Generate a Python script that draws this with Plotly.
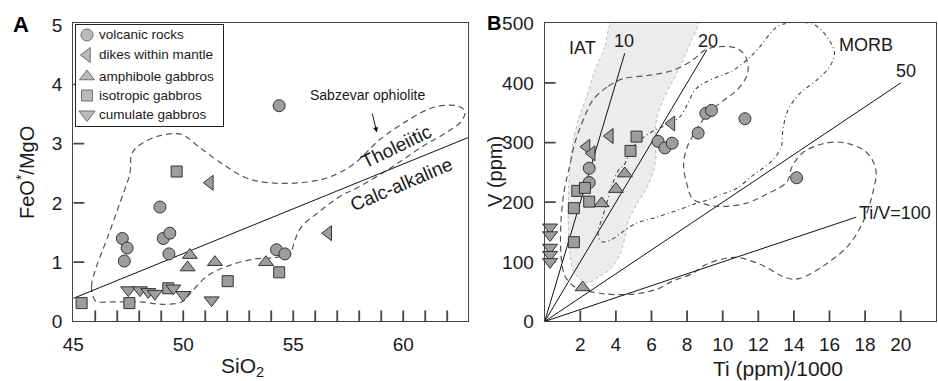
import plotly.graph_objects as go

FONT = "Arial, 'Liberation Sans', Helvetica, sans-serif"
TXT = "#1a1a1a"
FILL = "#9d9d9d"
EDGE = "#333333"
TICKC = "#444444"
W, H = 938, 381

# ---------------- Panel A : FeO*/MgO vs SiO2 ----------------
volc_si = [54.36, 48.94, 47.23, 47.45, 47.32, 49.09, 49.39, 49.35, 54.24, 54.62]
volc_fm = [3.64, 1.93, 1.40, 1.24, 1.02, 1.40, 1.49, 1.14, 1.21, 1.14]
dike_si = [51.21, 56.59]
dike_fm = [2.34, 1.49]
amph_si = [50.30, 50.20, 51.44, 53.76]
amph_fm = [1.12, 0.91, 1.00, 1.00]
iso_si = [49.70, 45.38, 47.55, 49.32, 52.02, 54.36]
iso_fm = [2.53, 0.31, 0.31, 0.56, 0.68, 0.83]
cum_si = [47.50, 48.03, 48.41, 48.71, 49.55, 50.00, 51.29]
cum_fm = [0.53, 0.53, 0.50, 0.47, 0.56, 0.45, 0.36]

# tick values
a_xlabels = [45, 50, 55, 60]
a_xticks = list(range(46, 63))
a_yvals = [0, 1, 2, 3, 4, 5]
a_yticks = [1, 2, 3, 4]
b_xvals = list(range(2, 21, 2))
b_yvals = [0, 100, 200, 300, 400, 500]
b_yticks = [100, 200, 300, 400]

# Tholeiitic / calc-alkaline divider
div_si = [45.0, 63.0]
div_fm = [0.39, 3.11]

# Sabzevar ophiolite field outline
sab_si = [45.98, 45.83, 46.06, 46.52, 47.12, 47.58, 47.65, 47.95, 48.79, 49.70,
          50.08, 50.76, 51.82, 52.88, 53.94, 55.30, 56.52, 57.73, 58.94, 60.15,
          61.36, 62.42, 62.80, 62.65, 61.97, 60.91, 59.55, 58.03, 57.12, 56.21,
          55.38, 55.08, 54.85, 54.24, 53.18, 51.97, 51.06, 50.45, 49.92, 49.09,
          48.03, 46.82, 46.14, 45.98]
sab_fm = [0.36, 0.59, 0.93, 1.38, 2.00, 2.51, 2.82, 2.96, 3.12, 3.17,
          3.13, 2.93, 2.65, 2.42, 2.34, 2.34, 2.42, 2.65, 3.07, 3.38,
          3.61, 3.64, 3.55, 3.38, 3.19, 2.96, 2.62, 2.28, 2.11, 1.86,
          1.60, 1.38, 1.15, 1.08, 1.05, 0.93, 0.76, 0.53, 0.33, 0.29,
          0.33, 0.33, 0.33, 0.36]

# ---------------- Panel B : V vs Ti/1000 ----------------
volc_ti = [2.50, 2.50, 6.37, 6.75, 7.16, 8.62, 9.05, 9.37, 11.25, 14.15]
volc_v = [257, 233, 302, 291, 299, 316, 349, 354, 340, 241]
dike_ti = [2.35, 2.64, 3.66, 7.12]
dike_v = [293, 282, 311, 332]
amph_ti = [2.13, 3.20, 4.00, 4.50]
amph_v = [57, 198, 222, 248]
iso_ti = [1.64, 1.64, 1.83, 2.26, 2.50, 4.82, 5.16]
iso_v = [133, 190, 219, 224, 201, 286, 310]
cum_ti = [0.30, 0.30, 0.30, 0.30, 0.30]
cum_v = [158, 145, 124, 112, 100]

# Ti/V ratio lines
ratios = [10, 20, 50, 100]
ratio_end_ti = [4.5, 9.1, 20.0, 17.5]

# IAT shaded field
iat_ti = [3.85, 3.38, 2.82, 2.35, 1.89, 1.61, 1.42, 1.33, 1.33, 1.42, 1.61, 1.98,
          2.45, 3.10, 3.76, 4.22, 4.50, 4.69, 5.16, 5.72, 6.09, 6.25, 6.20, 6.28,
          6.65, 7.21, 7.77, 8.24, 8.60, 3.85]
iat_v = [505, 460, 421, 377, 338, 305, 260, 212, 157, 112, 85, 71,
         65, 76, 90, 112, 140, 168, 196, 223, 251, 275, 300, 338,
         371, 404, 438, 471, 505, 505]

# dashed field
dsh_ti = [4.4, 3.5, 2.7, 2.15, 1.7, 1.4, 1.1, 0.9, 0.95, 1.14, 1.6, 2.2, 3.5, 5.0,
          6.3, 7.2, 8.2, 9.1, 10.2, 10.9, 12.1, 13.6, 14.3, 15.8, 17.1, 17.9, 18.4,
          18.6, 18.1, 17.3, 16.4, 15.4, 14.5, 13.9, 13.6, 12.5, 11.3, 9.8, 9.1, 8.3,
          8.0, 7.8, 8.0, 8.5, 9.2, 10.2, 10.8, 11.4, 11.3, 10.8, 9.8, 9.0, 8.3, 7.2,
          5.9, 4.4]
dsh_v = [407, 393, 371, 337, 300, 260, 220, 160, 101, 76, 60, 53, 46, 46,
         54, 68, 79, 96, 106, 107, 96, 73, 72, 96, 129, 168, 212,
         255, 283, 296, 301, 296, 283, 260, 234, 214, 198, 193, 196, 206,
         229, 262, 292, 320, 350, 374, 388, 416, 443, 458, 461, 455, 438, 421,
         413, 407]

# dash-dot field
dd_ti = [4.41, 4.97, 5.90, 6.84, 7.59, 8.05, 8.43, 9.09, 10.20, 10.58, 11.33, 12.07,
         12.82, 13.30, 15.10, 16.00, 16.28, 16.00, 15.25, 14.32, 13.66, 13.38, 13.29,
         12.82, 12.26, 11.70, 10.77, 9.83, 9.45, 8.33, 7.21, 6.09, 5.16, 4.41, 3.66,
         3.20, 3.00, 3.29, 3.57, 3.85, 4.22, 4.41]
dd_v = [260, 293, 316, 330, 343, 366, 388, 402, 416, 421, 438, 460,
        488, 498, 498, 471, 449, 427, 404, 382, 354, 321, 293,
        271, 257, 245, 223, 212, 207, 196, 184, 173, 165, 151, 136,
        134, 148, 179, 207, 234, 257, 260]

# legend entries (row order)
legend_names = ["volcanic rocks", "dikes within mantle", "amphibole gabbros",
                "isotropic gabbros", "cumulate gabbros"]
legend_symbols = ["circle", "triangle-left", "triangle-up", "square", "triangle-down"]
legend_sizes = [12, 13, 13, 11, 14]
legend_rows = [10.0, 30.0, 51.5, 70.5, 89.5]   # row centres inside the key box (px from top)

groups = [
    (volc_si, volc_fm, volc_ti, volc_v),
    (dike_si, dike_fm, dike_ti, dike_v),
    (amph_si, amph_fm, amph_ti, amph_v),
    (iso_si, iso_fm, iso_ti, iso_v),
    (cum_si, cum_fm, cum_ti, cum_v),
]

# axes geometry
A_XDOM, B_XDOM = [0.0781, 0.4986], [0.5807, 0.9982]
YDOM = [0.1562, 0.9388]
A_XR, A_YR = [45, 62.93], [0, 5.03]
B_XR, B_YR = [0, 22], [0, 500]
TICK_PX = 11


def per_px(rng, dom, size):
    return (rng[1] - rng[0]) / ((dom[1] - dom[0]) * size)


fig = go.Figure()

# ---- Panel A background lines ----
fig.add_trace(go.Scatter(x=sab_si, y=sab_fm, mode="lines", xaxis="x", yaxis="y",
                         line=dict(color="#555555", width=1.2, dash="6px,4px",
                                   shape="spline", smoothing=1),
                         showlegend=False, hoverinfo="skip"))
fig.add_trace(go.Scatter(x=div_si, y=div_fm, mode="lines", xaxis="x", yaxis="y",
                         line=dict(color="#111111", width=1),
                         showlegend=False, hoverinfo="skip"))

# ---- Panel B background ----
fig.add_trace(go.Scatter(x=iat_ti, y=iat_v, mode="lines", xaxis="x2", yaxis="y2",
                         fill="toself", fillcolor="#ebecec",
                         line=dict(color="#a8a8a8", width=0.8, dash="3px,3px",
                                   shape="spline", smoothing=0.8),
                         showlegend=False, hoverinfo="skip"))
fig.add_trace(go.Scatter(x=dsh_ti, y=dsh_v, mode="lines", xaxis="x2", yaxis="y2",
                         line=dict(color="#555555", width=1.2, dash="6px,4px",
                                   shape="spline", smoothing=1),
                         showlegend=False, hoverinfo="skip"))
fig.add_trace(go.Scatter(x=dd_ti, y=dd_v, mode="lines", xaxis="x2", yaxis="y2",
                         line=dict(color="#444444", width=1.1, dash="4px,3px,1px,3px",
                                   shape="spline", smoothing=1),
                         showlegend=False, hoverinfo="skip"))
for r, xe in zip(ratios, ratio_end_ti):
    fig.add_trace(go.Scatter(x=[0, xe], y=[0, 1000 * xe / r], mode="lines",
                             xaxis="x2", yaxis="y2",
                             line=dict(color="#111111", width=1),
                             showlegend=False, hoverinfo="skip"))


# ---- inward tick marks as short segments in axis units ----
def tick_trace(xa, ya, xvals, yvals, xr, yr, xdom):
    ly = TICK_PX * per_px(yr, YDOM, H)
    lx = TICK_PX * per_px(xr, xdom, W)
    xs, ys = [], []
    for v in xvals:
        xs += [v, v, None]
        ys += [yr[0], yr[0] + ly, None]
    for v in yvals:
        xs += [xr[0], xr[0] + lx, None]
        ys += [v, v, None]
    return go.Scatter(x=xs, y=ys, mode="lines", xaxis=xa, yaxis=ya,
                      line=dict(color=TICKC, width=1.8), showlegend=False,
                      hoverinfo="skip", connectgaps=False)


fig.add_trace(tick_trace("x", "y", a_xticks, a_yticks, A_XR, A_YR, A_XDOM))
fig.add_trace(tick_trace("x2", "y2", b_xvals, b_yticks, B_XR, B_YR, B_XDOM))

# ---- markers ----
for name, sym, size, (xa, ya, xb, yb) in zip(legend_names, legend_symbols,
                                              legend_sizes, groups):
    sz = min(size, 13)
    mk = dict(symbol=sym, size=sz, color=FILL, line=dict(color=EDGE, width=1))
    fig.add_trace(go.Scatter(x=xa, y=ya, mode="markers", name=name,
                             marker=mk, xaxis="x", yaxis="y", cliponaxis=False,
                             showlegend=False))
    fig.add_trace(go.Scatter(x=xb, y=yb, mode="markers", name=name,
                             showlegend=False, marker=mk, xaxis="x2", yaxis="y2",
                             cliponaxis=False))

# ---- key (legend) box drawn on its own small axes ----
fig.add_trace(go.Scatter(x=[11] * len(legend_rows), y=legend_rows, mode="markers",
                         xaxis="x3", yaxis="y3", showlegend=False, hoverinfo="skip",
                         marker=dict(symbol=legend_symbols, size=legend_sizes,
                                     color=FILL, line=dict(color=EDGE, width=1)),
                         cliponaxis=False))

axis_common = dict(showline=True, mirror=True, linecolor="#444444", linewidth=1.2,
                   ticks="", showgrid=False, zeroline=False, automargin=False,
                   tickfont=dict(family=FONT, size=19, color=TXT))

fig.update_layout(
    width=W, height=H,
    margin=dict(l=0, r=0, t=0, b=0, pad=0),
    template="none",
    paper_bgcolor="white", plot_bgcolor="white",
    font=dict(family=FONT, color=TXT),
    showlegend=False,
    xaxis=dict(domain=A_XDOM, range=A_XR, tickmode="array",
               tickvals=a_xlabels, ticklabelstandoff=6, anchor="y", **axis_common),
    yaxis=dict(domain=YDOM, range=A_YR, tickmode="array",
               tickvals=a_yvals, ticklabelstandoff=6, anchor="x", **axis_common),
    xaxis2=dict(domain=B_XDOM, range=B_XR, tickmode="array",
                tickvals=b_xvals, ticklabelstandoff=6, anchor="y2", **axis_common),
    yaxis2=dict(domain=YDOM, range=B_YR, tickmode="array",
                tickvals=b_yvals, ticklabelstandoff=6, anchor="x2", **axis_common),
    xaxis3=dict(domain=[76 / W, 222.7 / W], range=[0, 146.7], anchor="y3",
                showline=True, mirror=True, linecolor="#222222", linewidth=1,
                showticklabels=False, ticks="", showgrid=False, zeroline=False,
                automargin=False, fixedrange=True),
    yaxis3=dict(domain=[1 - 125.7 / H, 1 - 25 / H], range=[100.7, 0], anchor="x3",
                showline=True, mirror=True, linecolor="#222222", linewidth=1,
                showticklabels=False, ticks="", showgrid=False, zeroline=False,
                automargin=False, fixedrange=True),
)

ann = []
# key labels
for name, ry in zip(legend_names, legend_rows):
    ann.append(dict(text=name, x=21, y=ry, xref="x3", yref="y3", xanchor="left",
                    yanchor="middle", showarrow=False,
                    font=dict(size=13.5, family=FONT, color=TXT)))
# panel letters
ann.append(dict(text="<b>A</b>", x=21 / W, y=1 - 25 / H, xref="paper", yref="paper",
                xanchor="center", yanchor="middle",
                showarrow=False, font=dict(size=22, family=FONT, color="#000")))
ann.append(dict(text="<b>B</b>", x=494 / W, y=1 - 23 / H, xref="paper", yref="paper",
                xanchor="center", yanchor="middle",
                showarrow=False, font=dict(size=20, family=FONT, color="#000")))
# axis titles
ann.append(dict(text="FeO<sup>*</sup>/MgO", x=25 / W, y=1 - 173 / H, xref="paper",
                yref="paper", textangle=-90, showarrow=False,
                xanchor="center", yanchor="middle",
                font=dict(size=20, family=FONT, color=TXT)))
ann.append(dict(text="SiO<sub>2</sub>", x=242 / W, y=1 - 367 / H, xref="paper",
                yref="paper", showarrow=False, xanchor="center", yanchor="middle",
                font=dict(size=21, family=FONT, color=TXT)))
ann.append(dict(text="V (ppm)", x=495 / W, y=1 - 172 / H, xref="paper",
                yref="paper", textangle=-90, showarrow=False,
                xanchor="center", yanchor="middle",
                font=dict(size=20, family=FONT, color=TXT)))
ann.append(dict(text="Ti (ppm)/1000", x=778 / W, y=1 - 368 / H, xref="paper",
                yref="paper", showarrow=False, xanchor="center", yanchor="middle",
                font=dict(size=21, family=FONT, color=TXT)))
# panel A labels
ann.append(dict(text="Sabzevar ophiolite", x=58.8, y=3.19, xref="x", yref="y",
                showarrow=True, ax=-9, ay=-37, startstandoff=9, arrowhead=2,
                arrowsize=1, arrowwidth=1, arrowcolor="#111",
                font=dict(size=14, family=FONT, color=TXT)))
ann.append(dict(text="Tholeiitic", x=59.7, y=2.95, xref="x", yref="y", textangle=-26,
                showarrow=False, font=dict(size=19, family=FONT, color=TXT)))
ann.append(dict(text="Calc-alkaline", x=59.9, y=2.31, xref="x", yref="y", textangle=-23,
                showarrow=False, font=dict(size=19, family=FONT, color=TXT)))
# panel B labels
for t, xx, yy in [("IAT", 2.15, 459), ("10", 4.48, 471), ("20", 9.16, 471),
                  ("MORB", 18.04, 463), ("50", 20.3, 420), ("Ti/V=100", 19.7, 182)]:
    ann.append(dict(text=t, x=xx, y=yy, xref="x2", yref="y2", showarrow=False,
                    font=dict(size=18, family=FONT, color=TXT)))
fig.update_layout(annotations=ann)

fig.write_html("out.html")
